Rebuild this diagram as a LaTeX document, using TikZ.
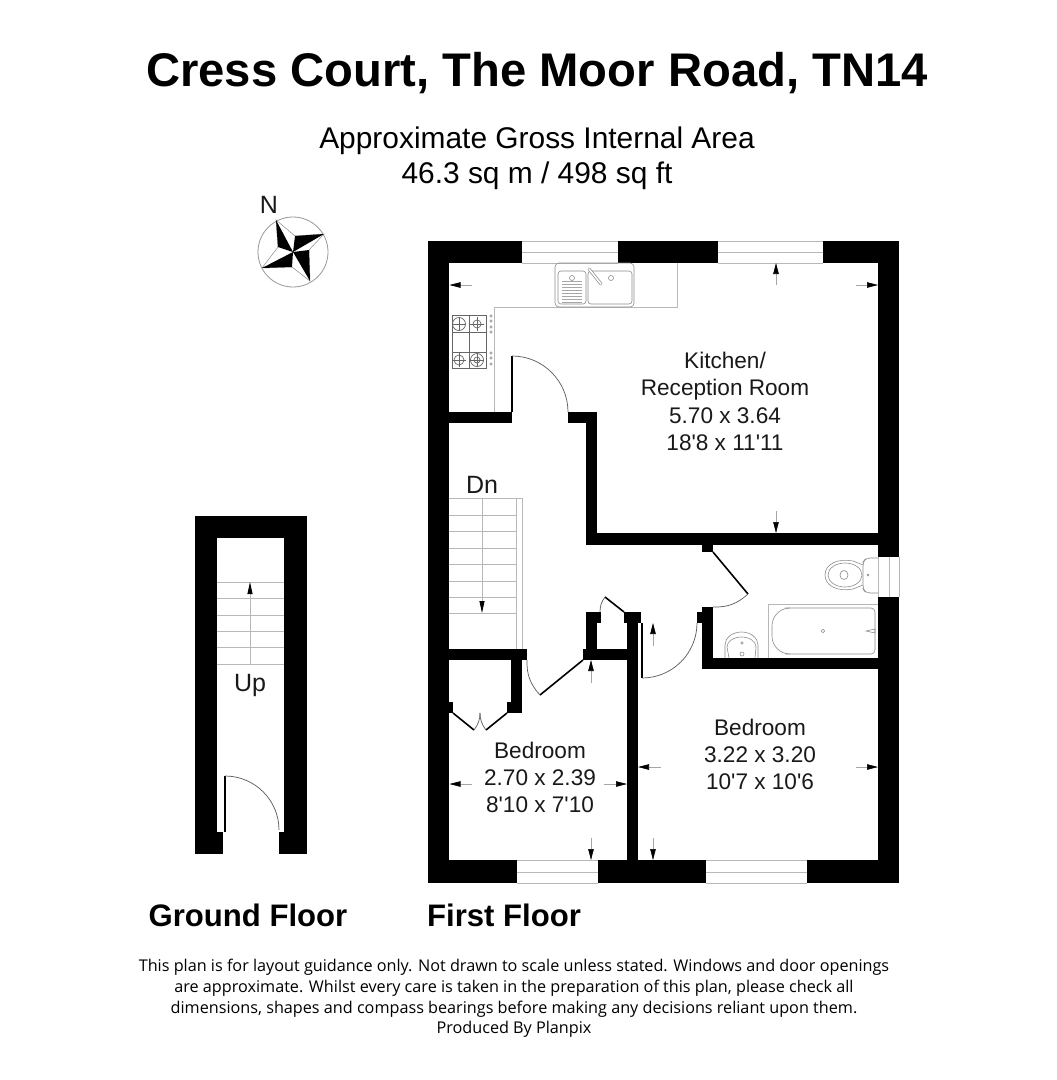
\documentclass[tikz,border=0pt]{standalone}
\usepackage{fontspec}
\setmainfont{Liberation Sans}
\newfontfamily\roomfont{Liberation Sans}
\newfontfamily\footfont{Open Sans}
\usetikzlibrary{arrows.meta}
\tikzset{
 wall/.style={fill=black},
 fine/.style={draw=black!28,line width=0.8pt},
 fixture/.style={draw=black!45,line width=0.6pt},
 swing/.style={draw=black!65,line width=0.7pt},
 leaf/.style={draw=black,line width=1.6pt},
 dimline/.style={draw=black!35,line width=0.6pt,-{Triangle[length=11pt,width=5.5pt,black]}},
 roomtxt/.style={font=\roomfont\fontsize{22.6}{24}\selectfont,inner sep=0pt,anchor=base,text=black!90},
 bigtxt/.style={font=\roomfont\fontsize{25}{26}\selectfont,inner sep=0pt,anchor=base,text=black!90},
}
\begin{document}
\begin{tikzpicture}[x=1pt,y=-1pt]
\useasboundingbox (0,0) rectangle (1057,1080);
\fill[white] (0,0) rectangle (1057,1080);
% windows
\foreach \a/\b in {522/618,718/823}{\draw[fine] (\a,241) -- (\b,241) (\a,252) -- (\b,252) (\a,263) -- (\b,263);}
\foreach \a/\b in {517/598,706/807}{\draw[fine] (\a,860) -- (\b,860) (\a,872) -- (\b,872) (\a,883) -- (\b,883);}
\draw[fine] (878,557) -- (878,597) (889,557) -- (889,597) (899,557) -- (899,597);
% first floor walls
\fill[wall] (428,241) rectangle (449,883);
\fill[wall] (428,241) rectangle (522,263);
\fill[wall] (618,241) rectangle (718,263);
\fill[wall] (823,241) rectangle (899,263);
\fill[wall] (878,241) rectangle (899,557);
\fill[wall] (878,597) rectangle (899,883);
\fill[wall] (428,860) rectangle (517,883);
\fill[wall] (598,860) rectangle (706,883);
\fill[wall] (807,860) rectangle (899,883);
\fill[wall] (449,412) rectangle (512,423);
\fill[wall] (568,412) rectangle (597,423);
\fill[wall] (586,412) rectangle (597,545);
\fill[wall] (586,533) rectangle (878,545);
\fill[wall] (702,545) rectangle (713,552);
\fill[wall] (702,607) rectangle (713,669);
\fill[wall] (697,612) rectangle (702,623);
\fill[wall] (702,658) rectangle (878,669);
\fill[wall] (627,612) rectangle (638,860);
\fill[wall] (624,612) rectangle (641,623);
\fill[wall] (586,612) rectangle (597,660);
\fill[wall] (586,612) rectangle (601,623);
\fill[wall] (583,649) rectangle (627,660);
\fill[wall] (449,649) rectangle (527,660);
\fill[wall] (511,649) rectangle (522,713);
\fill[wall] (507,702) rectangle (522,713);
\fill[wall] (449,702) rectangle (453,713);
% ground floor walls
\fill[wall] (195,516) rectangle (307,538);
\fill[wall] (195,516) rectangle (217,832);
\fill[wall] (284,516) rectangle (307,832);
\fill[wall] (195,832) rectangle (223,854);
\fill[wall] (279,832) rectangle (307,854);
% doors
\draw[leaf] (512,412) -- (512,356);
\draw[swing] (512,356) arc[start angle=-90,end angle=0,radius=56];
\draw[leaf] (713,552) -- (748,594);
\draw[swing] (748,594) to[bend left=22] (713,607);
\draw[leaf] (642,623) -- (642,678);
\draw[swing] (642,678) arc[start angle=90,end angle=0,radius=55];
\draw[leaf] (624,612) -- (605,597);
\draw[swing] (605,597) to[bend right=18] (600,612);
\draw[leaf] (583,660) -- (540,695);
\draw[swing] (540,695) to[bend left=22] (527,660);
\draw[leaf] (453,713) -- (474,730);
\draw[swing] (474,730) to[bend right=18] (480,713);
\draw[leaf] (507,713) -- (486,730);
\draw[swing] (486,730) to[bend left=18] (480,713);
\draw[leaf] (225,832) -- (225,776);
\draw[swing] (225,776) arc[start angle=-90,end angle=0,radius=54];
% kitchen counter
\draw[fine] (677,263) -- (677,307) -- (494,307) -- (494,412);
% sink
\draw[fixture,rounded corners=4pt] (555,263) rectangle (634,307);
\draw[fixture,rounded corners=3pt] (558,271) rectangle (586,304);
\draw[fixture,rounded corners=3pt] (588,271) rectangle (632,304);
\draw[fixture] (572,278) circle[radius=2.5] (611,278) circle[radius=2.5];
\foreach \y in {281,284,287,290,293,296,299,302}{\draw[draw=black!35,line width=0.5pt] (562,\y) -- (582,\y);}
\draw[fixture,line width=3pt,line cap=round] (589,269) -- (601,284);
\draw[white,line width=1.6pt,line cap=round] (589,269) -- (601,284);
% hob
\draw[draw=black!60,line width=1pt] (452,315) rectangle (486,368);
\draw[draw=black!60,line width=1pt] (469,315) -- (469,368) (452,332) -- (486,332) (452,352) -- (486,352);
\foreach \x/\y/\r in {459/324/6.5,477/324/4,459/360/5,477/360/6.5}{
 \draw[draw=black!60,line width=0.7pt] (\x,\y) circle[radius=\r];
 \draw[draw=black!60,line width=0.5pt] (\x-7,\y) -- (\x+7,\y) (\x,\y-7) -- (\x,\y+7);}
\draw[draw=black!60,line width=0.7pt] (477,360) circle[radius=3];
\foreach \y in {316,321,327,332,353,358,364}{\draw[fixture] (491,\y) circle[radius=1.2];}
% upper stairs
\draw[fine] (516,498) -- (516,649) (522,498) -- (522,649) (449,498) -- (522,498);
\foreach \y in {515,531,548,564,581,597,613}{\draw[fine] (449,\y) -- (516,\y);}
\draw[fine,-{Triangle[length=12pt,width=5pt,black]}] (482,498) -- (482,613);
% ground stairs
\foreach \y in {582,598,615,631,647,664}{\draw[fine] (217,\y) -- (284,\y);}
\draw[fine,-{Triangle[length=12pt,width=5pt,black]}] (250,664) -- (250,582);
% bathroom
\draw[fine] (768,658) -- (768,604) -- (878,604);
\draw[fixture,rounded corners=18pt] (790,608) -- (772,608) -- (772,654) -- (790,654);
\draw[fixture,rounded corners=4pt] (785,608) -- (875,608) -- (875,654) -- (785,654);
\draw[fixture] (823,631) circle[radius=1.8];
\draw[fixture] (866,631) -- (875,629) -- (875,633) -- cycle;
\draw[fixture] (725,658) -- (725,645) arc[start angle=180,end angle=360,x radius=16.5,y radius=13] -- (758,658);
\draw[fixture] (729,658) -- (727,647) arc[start angle=180,end angle=360,x radius=14.5,y radius=10] -- (755,658);
\draw[fixture] (742,643) circle[radius=1.2] (742,654) circle[radius=2];
\draw[fixture,rounded corners=4pt] (878,558) -- (866,558) -- (863,562) -- (863,589) -- (866,593) -- (878,593);
\draw[fixture] (863,565) -- (853,561) .. controls (838,558) and (825,564) .. (825,575) .. controls (825,586) and (838,592) .. (853,589) -- (863,585);
\draw[fixture] (845,575) ellipse[x radius=17,y radius=12];
\draw[fixture] (844,575) ellipse[x radius=4,y radius=4.5];
\draw[fixture] (868,575) circle[radius=1];
% dimension arrows
\draw[dimline] (472,285) -- (449.5,285);
\draw[dimline] (776,285) -- (776,263);
\draw[dimline] (856,285) -- (878,285);
\draw[dimline] (776,511) -- (776,533);
\draw[dimline] (472,784) -- (449.5,784);
\draw[dimline] (604,784) -- (627,784);
\draw[dimline] (591,683) -- (591,660);
\draw[dimline] (591,838) -- (591,860);
\draw[dimline] (661,767) -- (638,767);
\draw[dimline] (856,767) -- (878,767);
\draw[dimline] (653,838) -- (653,860);
\draw[dimline] (653,646) -- (653,623);
% compass
\draw[draw=black!40,line width=0.8pt] (293,252) circle[radius=35];
\draw[draw=black!45,line width=0.5pt,fill=white] (276,220) -- (295,236) -- (324,234) -- (309,250) -- (310,281) -- (292,267) -- (262,268) -- (278,247) -- cycle;
\fill[black] (276,220) -- (278,247) -- (293,252) -- cycle;
\fill[black] (324,234) -- (295,236) -- (293,252) -- cycle;
\fill[black] (310,281) -- (309,250) -- (293,252) -- cycle;
\fill[black] (262,268) -- (292,267) -- (293,252) -- cycle;
% text
\node[inner sep=0pt] (title) at (537,73) {\fontsize{47.2}{52}\selectfont\bfseries Cress Court, The Moor Road, TN14};
\node[inner sep=0pt] (area1) at (537,141) {\fontsize{29.9}{32}\selectfont Approximate Gross Internal Area};
\node[inner sep=0pt] (area2) at (537,176) {\fontsize{29.9}{32}\selectfont 46.3 sq m / 498 sq ft};
\node[bigtxt] (north) at (269,213) {N};
\node[roomtxt] (k1) at (725,368) {Kitchen/};
\node[roomtxt] (k2) at (725,395) {Reception Room};
\node[roomtxt] (k3) at (725,423) {5.70 x 3.64};
\node[roomtxt] (k4) at (725,450) {18'8 x 11'11};
\node[roomtxt] (b1) at (760,735) {Bedroom};
\node[roomtxt] (b2) at (760,762) {3.22 x 3.20};
\node[roomtxt] (b3) at (760,789) {10'7 x 10'6};
\node[roomtxt] (c1) at (540,758) {Bedroom};
\node[roomtxt] (c2) at (540,785) {2.70 x 2.39};
\node[roomtxt] (c3) at (540,812) {8'10 x 7'10};
\node[bigtxt] (dn) at (482,493) {Dn};
\node[bigtxt] (up) at (250,691) {Up};
\node[inner sep=0pt] (gf) at (248,915) {\fontsize{31.1}{32}\selectfont\bfseries Ground Floor};
\node[inner sep=0pt] (ff) at (504,915) {\fontsize{31.1}{32}\selectfont\bfseries First Floor};
\node[inner sep=0pt,align=center,font=\footfont\fontsize{16.2}{20.6}\selectfont] (foot) at (514,998.5) {This plan is for layout guidance only. Not drawn to scale unless stated. Windows and door openings\\are approximate. Whilst every care is taken in the preparation of this plan, please check all\\dimensions, shapes and compass bearings before making any decisions reliant upon them.\\Produced By Planpix};
\end{tikzpicture}
\end{document}
